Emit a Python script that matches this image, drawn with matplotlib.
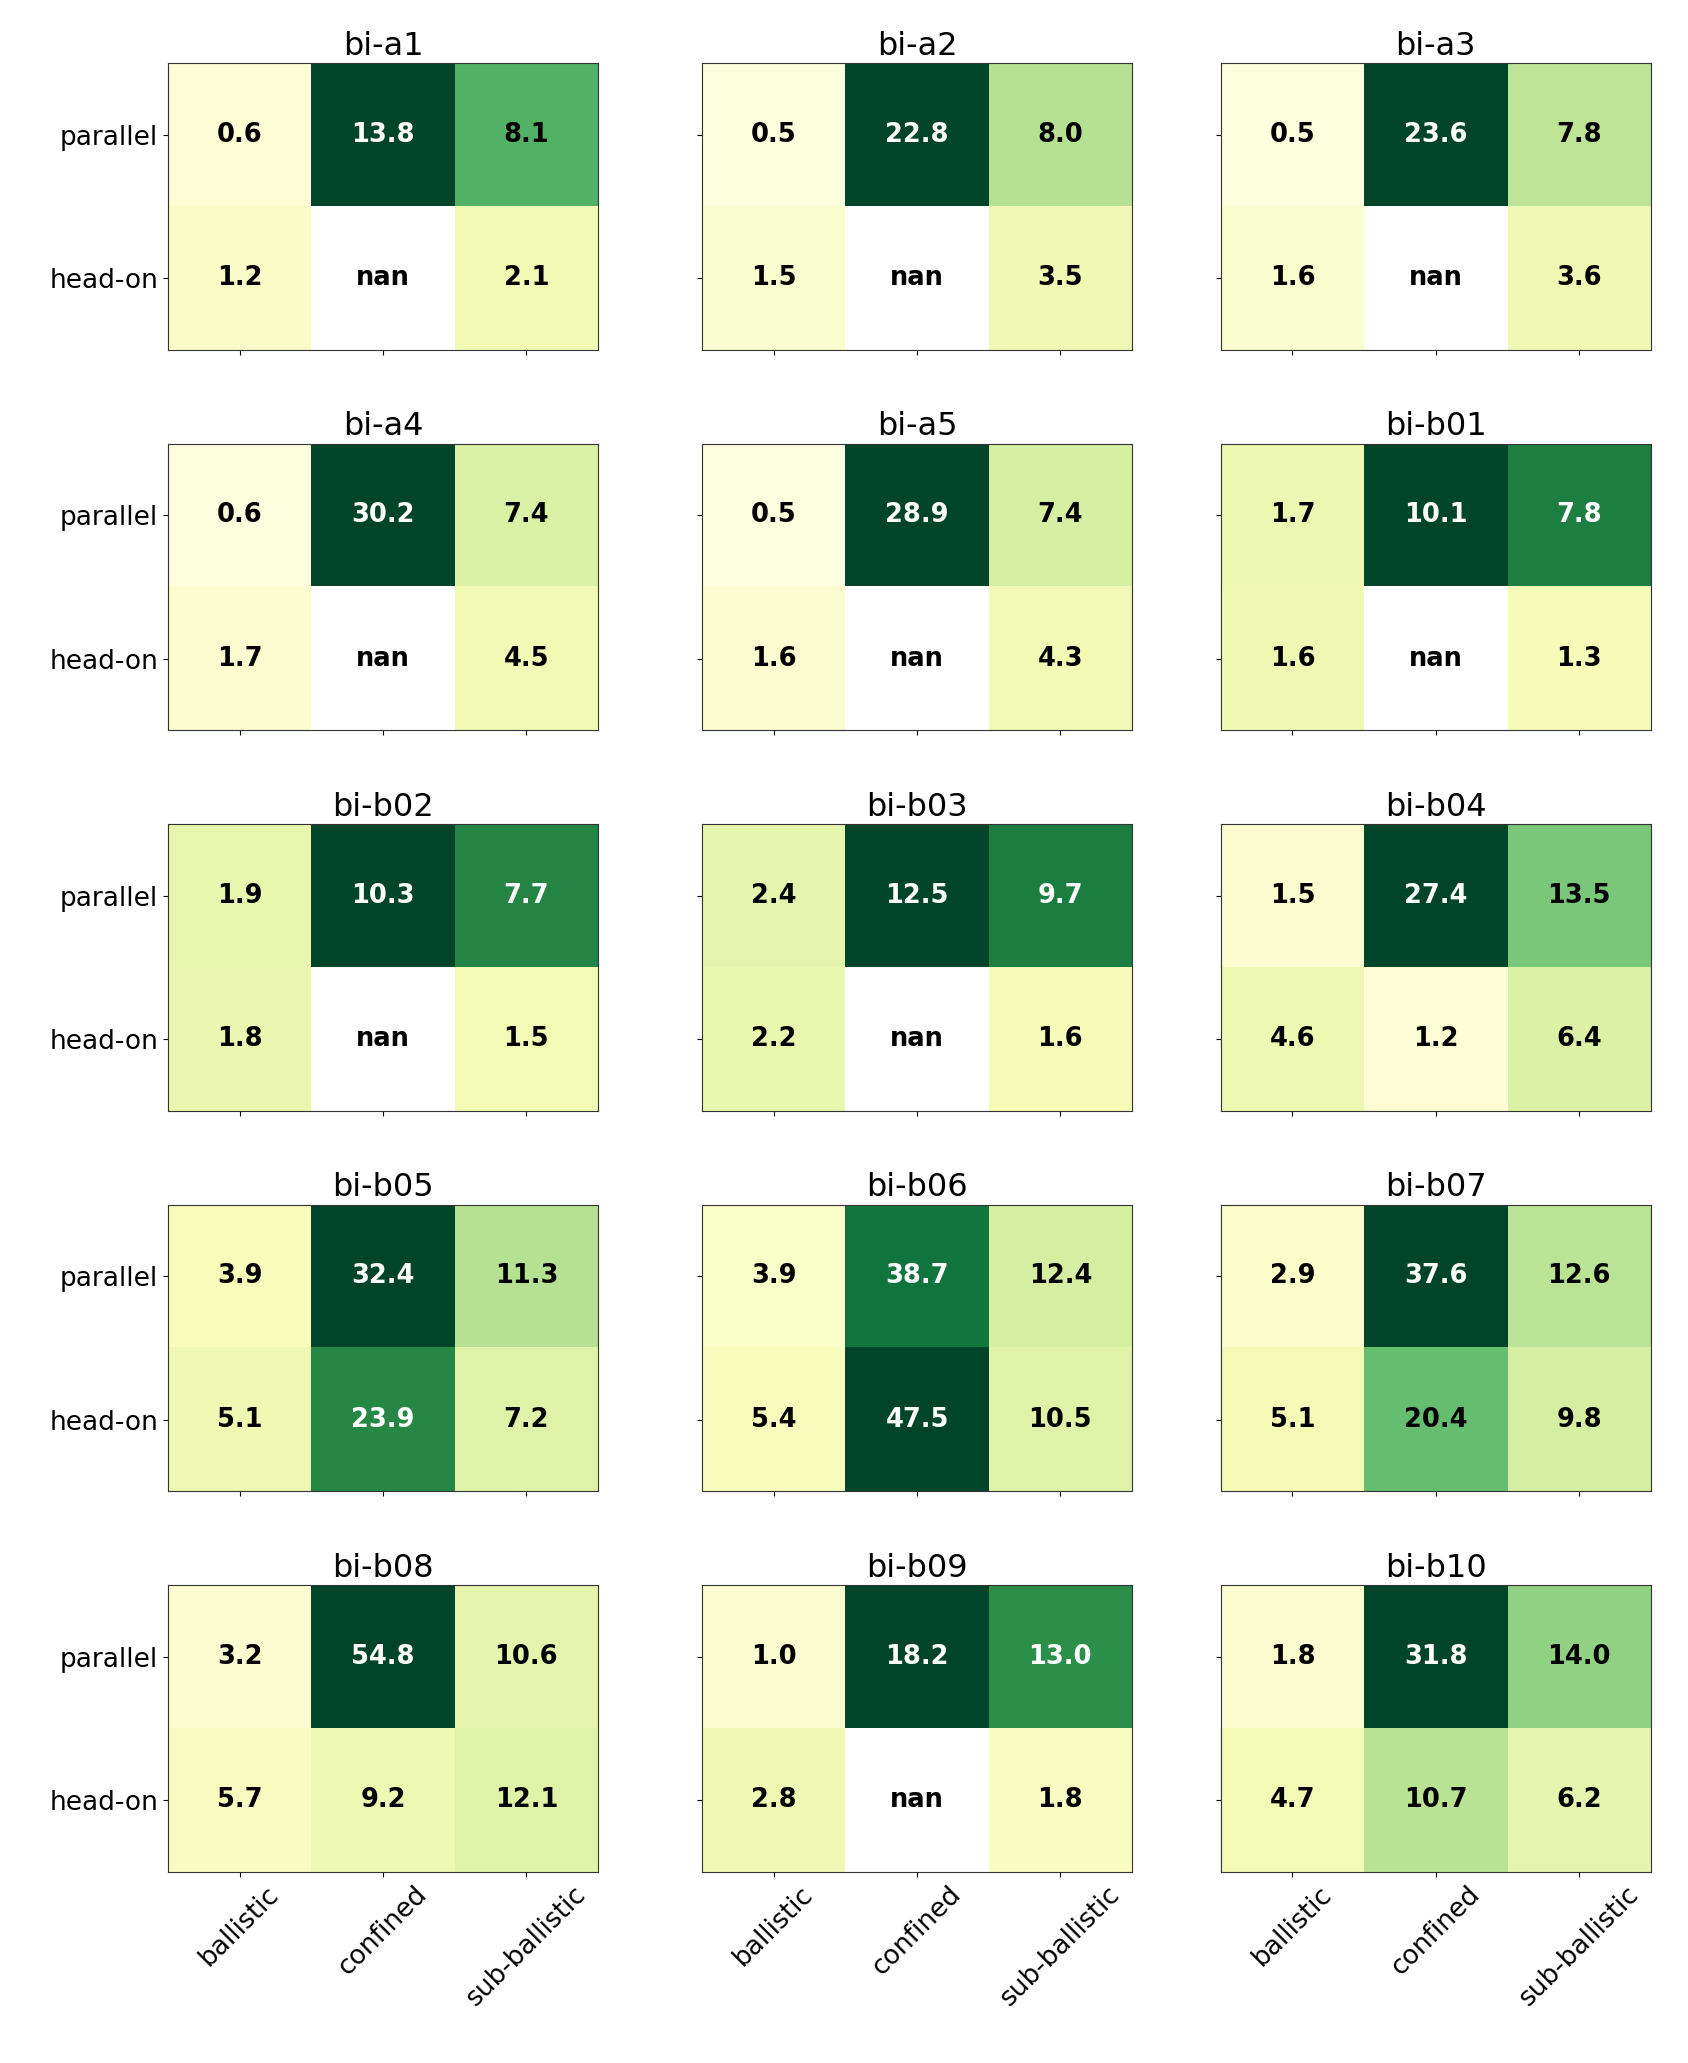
import numpy as np
import matplotlib
matplotlib.use("Agg")
import matplotlib.pyplot as plt

nan = np.nan

modes = ["ballistic", "confined", "sub-ballistic"]
orients = ["parallel", "head-on"]

names = ["bi-a1", "bi-a2", "bi-a3",
         "bi-a4", "bi-a5", "bi-b01",
         "bi-b02", "bi-b03", "bi-b04",
         "bi-b05", "bi-b06", "bi-b07",
         "bi-b08", "bi-b09", "bi-b10"]

bi_a1 = [[0.6, 13.8, 8.1], [1.2, nan, 2.1]]
bi_a2 = [[0.5, 22.8, 8.0], [1.5, nan, 3.5]]
bi_a3 = [[0.5, 23.6, 7.8], [1.6, nan, 3.6]]
bi_a4 = [[0.6, 30.2, 7.4], [1.7, nan, 4.5]]
bi_a5 = [[0.5, 28.9, 7.4], [1.6, nan, 4.3]]
bi_b01 = [[1.7, 10.1, 7.8], [1.6, nan, 1.3]]
bi_b02 = [[1.9, 10.3, 7.7], [1.8, nan, 1.5]]
bi_b03 = [[2.4, 12.5, 9.7], [2.2, nan, 1.6]]
bi_b04 = [[1.5, 27.4, 13.5], [4.6, 1.2, 6.4]]
bi_b05 = [[3.9, 32.4, 11.3], [5.1, 23.9, 7.2]]
bi_b06 = [[3.9, 38.7, 12.4], [5.4, 47.5, 10.5]]
bi_b07 = [[2.9, 37.6, 12.6], [5.1, 20.4, 9.8]]
bi_b08 = [[3.2, 54.8, 10.6], [5.7, 9.2, 12.1]]
bi_b09 = [[1.0, 18.2, 13.0], [2.8, nan, 1.8]]
bi_b10 = [[1.8, 31.8, 14.0], [4.7, 10.7, 6.2]]

tables = [bi_a1, bi_a2, bi_a3, bi_a4, bi_a5, bi_b01, bi_b02, bi_b03,
          bi_b04, bi_b05, bi_b06, bi_b07, bi_b08, bi_b09, bi_b10]

fig, axes = plt.subplots(5, 3, figsize=(16.88, 20.63), dpi=100)
fig.subplots_adjust(left=0.0995, right=0.978, top=0.9695, bottom=0.0926,
                     wspace=0.224, hspace=0.326)

# middle column sits a little further right in the original
for ax in axes[:, 1]:
    p = ax.get_position()
    ax.set_position([p.x0 + 0.0045, p.y0, p.width, p.height])

for i, ax in enumerate(axes.flat):
    data = np.array(tables[i], dtype=float)
    vmax = np.nanmax(data)
    ax.imshow(data, cmap="YlGn", vmin=0, vmax=vmax, aspect="equal")
    for r in range(data.shape[0]):
        for c in range(data.shape[1]):
            v = data[r, c]
            col = "white" if (not np.isnan(v) and v > 0.65 * vmax) else "black"
            ax.text(c, r, f"{v:.1f}", ha="center", va="center",
                    color=col, fontsize=18.5, fontweight="bold")
    ax.set_title(names[i], fontsize=23)
    ax.set_xticks(range(len(modes)))
    ax.set_yticks(range(len(orients)))
    if i % 3 == 0:
        ax.set_yticklabels(orients, fontsize=19)
    else:
        ax.set_yticklabels([])
    if i >= 12:
        ax.set_xticklabels(modes, fontsize=19, rotation=45)
    else:
        ax.set_xticklabels([])
    for s in ax.spines.values():
        s.set_color("#333333")

fig.savefig("out.png", dpi=100)
